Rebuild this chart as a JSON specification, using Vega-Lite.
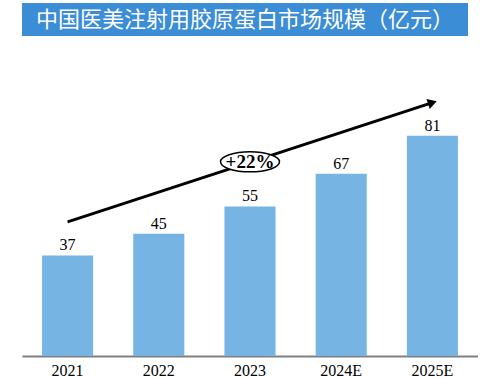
{
  "$schema": "https://vega.github.io/schema/vega-lite/v6.json",
  "background": "white",
  "padding": {"left": 22, "top": 3, "right": 0, "bottom": 0},
  "spacing": 10,
  "config": {"view": {"stroke": null}},
  "vconcat": [
    {
      "width": 446,
      "height": 33,
      "view": {"fill": "#3b8dd6", "stroke": null},
      "data": {"values": [{"title": "中国医美注射用胶原蛋白市场规模（亿元）"}]},
      "mark": {"type": "text", "color": "white", "font": "Noto Sans CJK SC", "fontSize": 22, "baseline": "middle", "align": "center"},
      "encoding": {"text": {"field": "title"}}
    },
    {
      "width": 456,
      "height": 310,
      "layer": [
        {
          "data": {"values": [
            {"year": "2021", "value": 37},
            {"year": "2022", "value": 45},
            {"year": "2023", "value": 55},
            {"year": "2024E", "value": 67},
            {"year": "2025E", "value": 81}
          ]},
          "mark": {"type": "bar", "color": "#75b4e3"},
          "encoding": {
            "x": {"field": "year", "type": "nominal", "scale": {"domain": ["2021", "2022", "2023", "2024E", "2025E"], "paddingInner": 0.44, "paddingOuter": 0.22},
              "axis": {"title": null, "domainColor": "#808080", "domainWidth": 2, "ticks": false, "labelFont": "Liberation Serif", "labelFontSize": 16, "labelFontWeight": "normal", "labelColor": "#000", "labelPadding": 6, "labelAngle": 0, "grid": false}},
            "y": {"field": "value", "type": "quantitative", "scale": {"domain": [0, 114], "nice": false}, "axis": null}
          }
        },
        {
          "data": {"values": [
            {"year": "2021", "value": 37},
            {"year": "2022", "value": 45},
            {"year": "2023", "value": 55},
            {"year": "2024E", "value": 67},
            {"year": "2025E", "value": 81}
          ]},
          "mark": {"type": "text", "font": "Liberation Serif", "fontSize": 16, "color": "#000", "baseline": "alphabetic", "dy": -5},
          "encoding": {
            "x": {"field": "year", "type": "nominal"},
            "y": {"field": "value", "type": "quantitative"},
            "text": {"field": "value"}
          }
        },
        {
          "data": {"values": [
            {"year": "2021", "value": 49.3},
            {"year": "2025E", "value": 93.2}
          ]},
          "mark": {"type": "line", "color": "#000", "strokeWidth": 3},
          "encoding": {
            "x": {"field": "year", "type": "nominal"},
            "y": {"field": "value", "type": "quantitative"}
          }
        },
        {
          "data": {"values": [{"year": "2025E", "value": 93.2}]},
          "mark": {"type": "point", "shape": "triangle-right", "filled": true, "color": "#000", "size": 110, "angle": 341.6, "opacity": 1},
          "encoding": {
            "x": {"field": "year", "type": "nominal"},
            "y": {"field": "value", "type": "quantitative"}
          }
        },
        {
          "data": {"values": [{"year": "2023", "value": 71.4, "label": "+22%"}]},
          "mark": {"type": "point", "shape": "M-1,0A1,0.34 0 1,1 1,0A1,0.34 0 1,1 -1,0Z", "filled": true, "fill": "white", "stroke": "#000", "strokeWidth": 1.5, "size": 3481, "opacity": 1},
          "encoding": {
            "x": {"field": "year", "type": "nominal"},
            "y": {"field": "value", "type": "quantitative"}
          }
        },
        {
          "data": {"values": [{"year": "2023", "value": 71.4, "label": "+22%"}]},
          "mark": {"type": "text", "font": "Liberation Serif", "fontSize": 19, "fontWeight": "bold", "color": "#000", "baseline": "middle"},
          "encoding": {
            "x": {"field": "year", "type": "nominal"},
            "y": {"field": "value", "type": "quantitative"},
            "text": {"field": "label"}
          }
        }
      ]
    }
  ]
}
